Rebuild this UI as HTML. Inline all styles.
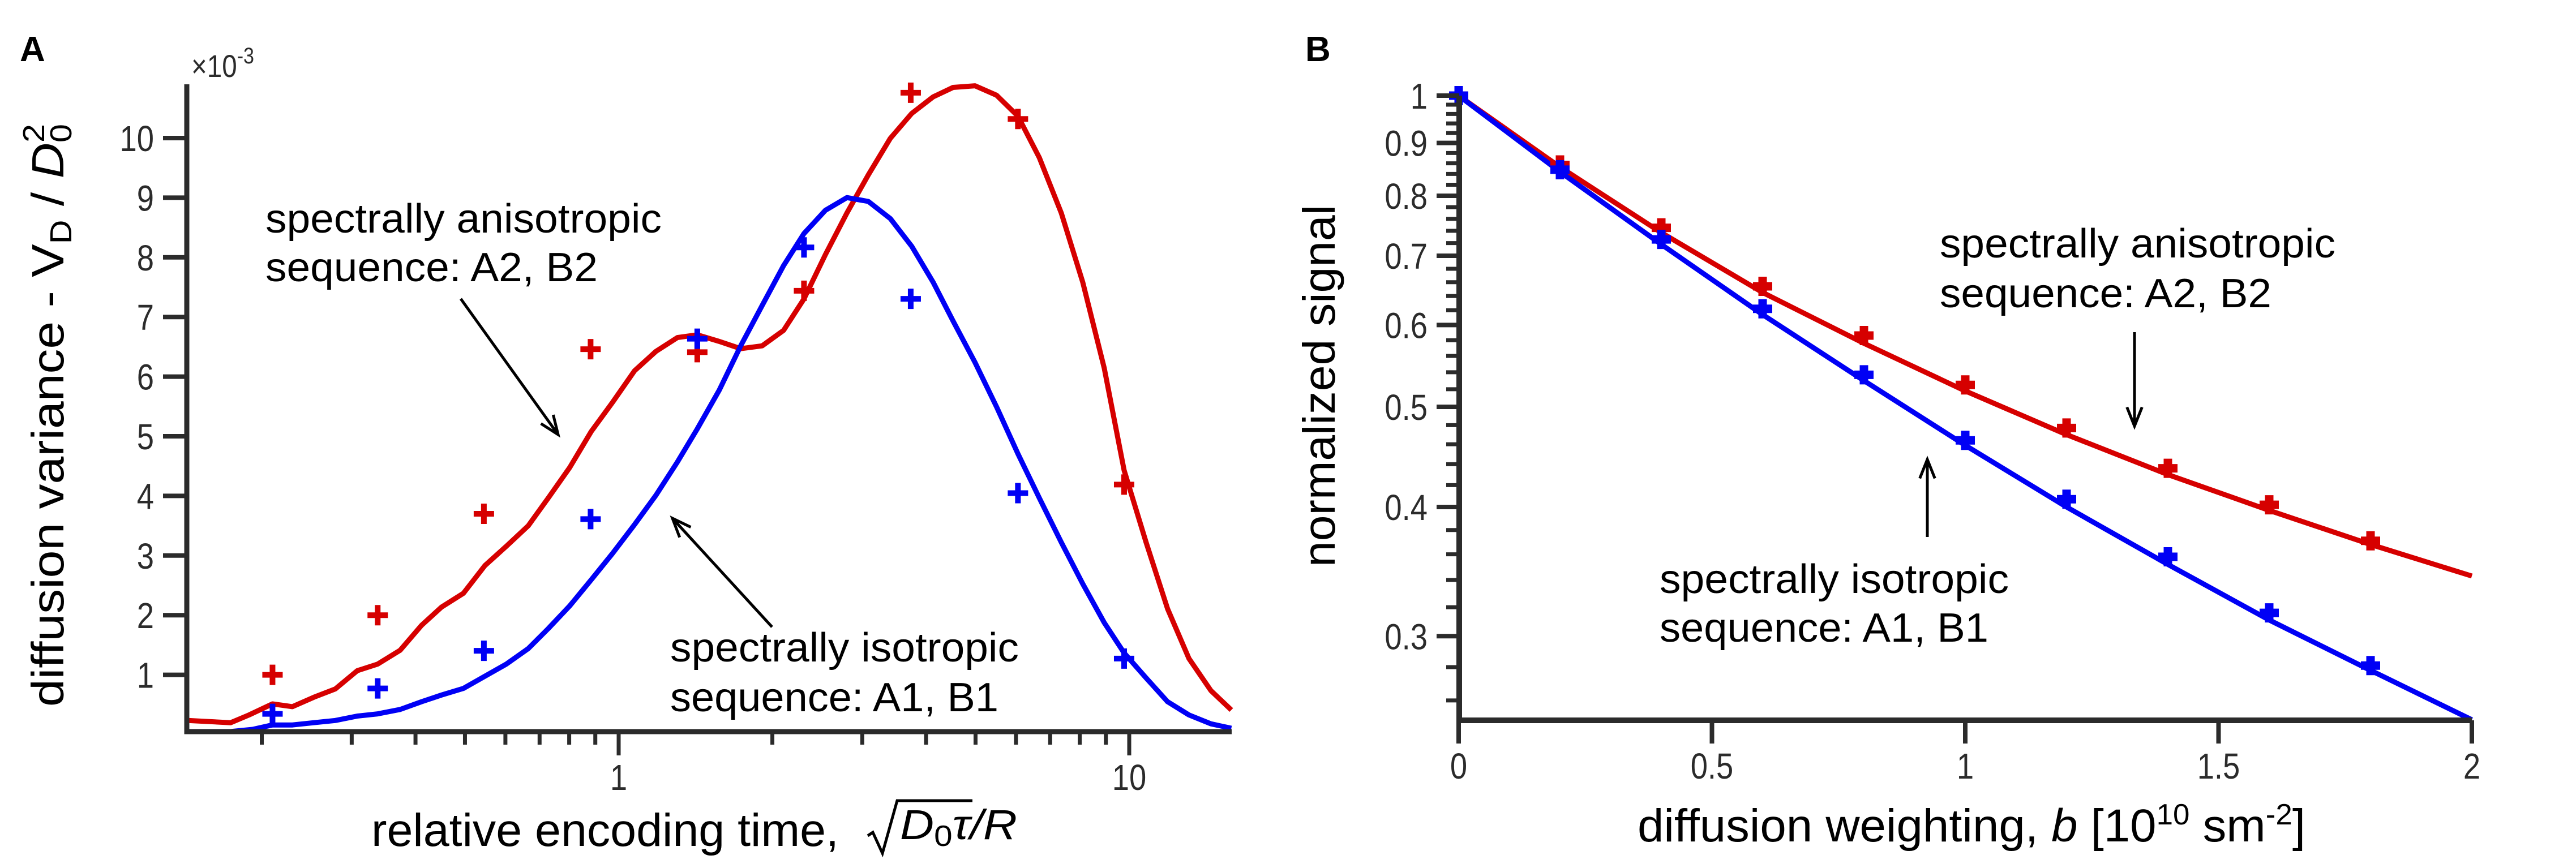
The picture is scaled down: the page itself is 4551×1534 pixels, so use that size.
<!DOCTYPE html>
<html><head><meta charset="utf-8"><style>
html,body{margin:0;padding:0;background:#fff;}
svg{display:block;}
text{font-family:"Liberation Sans",sans-serif;}
</style></head><body>
<svg id="fig" width="4551" height="1534" viewBox="0 0 4551 1534" xmlns="http://www.w3.org/2000/svg">
<g id="gA"></g>
<g id="gB"></g>
</svg>
<script>
// ---------- Panel A data ----------
const aCurveLogX = [-0.844,-0.760,-0.724,-0.678,-0.639,-0.597,-0.555,-0.512,-0.472,-0.428,-0.386,-0.347,-0.304,-0.262,-0.220,-0.177,-0.138,-0.096,-0.054,-0.012,0.031,0.073,0.115,0.154,0.197,0.239,0.281,0.323,0.363,0.405,0.447,0.489,0.532,0.574,0.616,0.655,0.698,0.740,0.782,0.824,0.867,0.909,0.951,0.990,1.033,1.075,1.117,1.160,1.200];
const aRedCurve = [0.234,0.197,0.327,0.512,0.466,0.624,0.763,1.069,1.180,1.412,1.830,2.136,2.368,2.832,3.157,3.50,3.964,4.474,5.077,5.569,6.098,6.423,6.655,6.701,6.59,6.469,6.516,6.775,7.304,8.047,8.743,9.383,9.995,10.413,10.691,10.849,10.877,10.719,10.367,9.671,8.743,7.583,6.145,4.428,3.221,2.108,1.273,0.735,0.410];
const aBlueCurveLogX = [-0.844,-0.760,-0.717,-0.678,-0.639,-0.597,-0.555,-0.512,-0.472,-0.428,-0.386,-0.347,-0.304,-0.262,-0.220,-0.177,-0.138,-0.096,-0.054,-0.012,0.031,0.073,0.115,0.154,0.197,0.239,0.281,0.323,0.363,0.405,0.447,0.489,0.532,0.574,0.616,0.655,0.698,0.740,0.782,0.824,0.867,0.909,0.951,0.990,1.033,1.075,1.117,1.160,1.200];
const aBlueCurve = [0.048,0.048,0.085,0.159,0.159,0.197,0.234,0.308,0.345,0.419,0.549,0.661,0.772,0.976,1.180,1.440,1.774,2.155,2.591,3.036,3.519,4.010,4.567,5.124,5.773,6.516,7.193,7.861,8.399,8.789,9.002,8.937,8.650,8.186,7.583,6.933,6.237,5.495,4.706,3.964,3.221,2.526,1.876,1.366,0.948,0.549,0.327,0.178,0.104];
const aPointLogX = [-0.678,-0.472,-0.264,-0.055,0.154,0.363,0.572,0.782,0.990];
const aRedPts = [1.0,2.0,3.7,6.46,6.41,7.44,10.76,10.32,4.19];
const aBluePts = [0.345,0.772,1.403,3.611,6.636,8.167,7.304,4.047,1.273];
const aYTicks = [1,2,3,4,5,6,7,8,9,10];
const aXMajor = [1,10];
const aXMinor = [0.2,0.3,0.4,0.5,0.6,0.7,0.8,0.9,2,3,4,5,6,7,8,9];
// ---------- Panel B data ----------
const bX = [0,0.2,0.4,0.6,0.8,1.0,1.2,1.4,1.6,1.8];
const bRedPts = [1,0.857,0.745,0.654,0.586,0.525,0.477,0.436,0.402,0.371];
const bBluePts = [1,0.848,0.726,0.622,0.537,0.464,0.407,0.358,0.316,0.281];
const bCurveX = [0,0.2,0.4,0.6,0.8,1.0,1.2,1.4,1.6,1.8,2.0];
const bRedCurve = [1,0.853,0.737,0.645,0.576,0.518,0.470,0.430,0.397,0.368,0.343];
const bBlueCurve = [1,0.844,0.718,0.614,0.530,0.459,0.400,0.352,0.311,0.278,0.249];
const bXTicks = [0,0.5,1,1.5,2];
const bXTickLabels = ["0","0.5","1","1.5","2"];
const bYMajor = [0.3,0.4,0.5,0.6,0.7,0.8,0.9,1];
const bYMajorLabels = ["0.3","0.4","0.5","0.6","0.7","0.8","0.9","1"];

const NS="http://www.w3.org/2000/svg";
const RED="#d60000", BLUE="#0000f5", AX="#2b2b2b";
const TS=64, SX=0.85;
function mk(parent,tag,attrs,text){const e=document.createElementNS(NS,tag);for(const k in attrs)e.setAttribute(k,attrs[k]);if(text!==undefined)e.textContent=text;parent.appendChild(e);return e;}

const xA = l => 1093 + 902*l;
const yA = v => 1298 - 105.4*v;
const xB = b => 2577 + 895*b;
const yB = v => 169 - 1827*Math.log10(v);

const gA=document.getElementById('gA'), gB=document.getElementById('gB');

function plus(g,x,y,s,w,color){
  const p=mk(g,'path',{d:`M${x-s} ${y}H${x+s}M${x} ${y-s}V${y+s}`,stroke:color,'stroke-width':w,fill:'none'});
  
  
}
function curve(g,xs,ys,fx,fy,color,name){
  const pts=xs.map((x,i)=>fx(x).toFixed(1)+','+fy(ys[i]).toFixed(1)).join(' ');
  const p=mk(g,'polyline',{points:pts,fill:'none',stroke:color,'stroke-width':9,'stroke-linejoin':'round'});
  
  
}
function label(g,x,y,txt,size,anchor,name,extra){
  const t=mk(g,'text',Object.assign({x:x,y:y,'font-size':size,'text-anchor':anchor||'start',fill:'#000'},extra||{}),txt);
  
  
  return t;
}
function arrow(g,x1,y1,x2,y2,name){
  const a=Math.atan2(y2-y1,x2-x1), L=36, sp=0.38;
  const p=mk(g,'path',{d:`M${x1} ${y1}L${x2} ${y2}M${x2-L*Math.cos(a-sp)} ${y2-L*Math.sin(a-sp)}L${x2} ${y2}L${x2-L*Math.cos(a+sp)} ${y2-L*Math.sin(a+sp)}`,stroke:'#000','stroke-width':5,fill:'none'});
  
  
}

// ===== Panel A =====
label(gA,35,108,"A",62,'start','panel-a-letter',{'font-weight':'bold'});
curve(gA,aCurveLogX,aRedCurve,xA,yA,RED,'anisotropic-curve-a');
curve(gA,aBlueCurveLogX,aBlueCurve,xA,yA,BLUE,'isotropic-curve-a');
aPointLogX.forEach((l,i)=>{plus(gA,xA(l),yA(aRedPts[i]),18,10,RED);});
aPointLogX.forEach((l,i)=>{plus(gA,xA(l),yA(aBluePts[i]),18,10,BLUE);});
const axA=mk(gA,'path',{d:`M330 149V1293H2176`,stroke:AX,'stroke-width':9,fill:'none'});


aYTicks.forEach(v=>{
  const t=mk(gA,'line',{x1:288,x2:330,y1:yA(v),y2:yA(v),stroke:AX,'stroke-width':8});
  
  
  label(gA,272,yA(v)+23,String(v),TS,'end','y-tick-label',{fill:'#2b2b2b',transform:`translate(${272*(1-SX)},0) scale(${SX},1)`});
});
aXMinor.forEach(v=>{
  const x=xA(Math.log10(v));
  const t=mk(gA,'line',{x1:x,x2:x,y1:1293,y2:1316,stroke:AX,'stroke-width':7});
  
  
});
aXMajor.forEach(v=>{
  const x=xA(Math.log10(v));
  const t=mk(gA,'line',{x1:x,x2:x,y1:1293,y2:1335,stroke:AX,'stroke-width':7});
  
  
  label(gA,x,1396,String(v),TS,'middle','x-tick-label',{fill:'#2b2b2b',transform:`translate(${x*(1-SX)},0) scale(${SX},1)`});
});
const ex=label(gA,338,136,"",56,'start','y-exponent-label',{fill:'#2b2b2b',transform:`translate(${338*(1-SX)},0) scale(${SX},1)`});
ex.innerHTML='×10<tspan dy="-24" font-size="40">-3</tspan>';
const yt=label(gA,0,0,"",80,'middle','y-axis-title-a',{transform:'translate(112,734) rotate(-90)',textLength:1030,lengthAdjust:'spacingAndGlyphs'});
yt.innerHTML='diffusion variance  - V<tspan font-size="54" dy="14">D</tspan><tspan dy="-14"> / </tspan><tspan font-style="italic">D</tspan><tspan font-size="54" dy="14">0</tspan><tspan font-size="54" dy="-48" dx="-30">2</tspan>';
label(gA,656,1495,"relative encoding time,",82,'start','x-axis-title-a',{textLength:826,lengthAdjust:'spacingAndGlyphs'});
const rad=mk(gA,'path',{d:'M1533 1477L1542 1471L1559 1508L1585 1415H1718',stroke:'#000','stroke-width':5,fill:'none'});


const fm=label(gA,1590,1483,"",74,'start','x-axis-formula',{'font-family':'"Liberation Serif",serif','font-style':'italic',textLength:207,lengthAdjust:'spacingAndGlyphs'});
fm.innerHTML='D<tspan font-style="normal" font-size="52" dy="12">0</tspan><tspan dy="-12">τ/R</tspan>';
label(gA,469,411,"spectrally anisotropic",72,'start','annotation-anisotropic-a',{textLength:700,lengthAdjust:'spacingAndGlyphs'});
label(gA,469,497,"sequence: A2, B2",72,'start','annotation-anisotropic-seq-a',{textLength:587,lengthAdjust:'spacingAndGlyphs'});
label(gA,1184,1169,"spectrally isotropic",72,'start','annotation-isotropic-a',{textLength:616,lengthAdjust:'spacingAndGlyphs'});
label(gA,1184,1257,"sequence: A1, B1",72,'start','annotation-isotropic-seq-a',{textLength:580,lengthAdjust:'spacingAndGlyphs'});
arrow(gA,814,528,986,768,'arrow-anisotropic-a');
arrow(gA,1364,1108,1188,916,'arrow-isotropic-a');

// ===== Panel B =====
label(gB,2306,108,"B",62,'start','panel-b-letter',{'font-weight':'bold'});
curve(gB,bCurveX,bRedCurve,xB,yB,RED,'anisotropic-curve-b');
curve(gB,bCurveX,bBlueCurve,xB,yB,BLUE,'isotropic-curve-b');
bX.forEach((b,i)=>{plus(gB,xB(b),yB(bRedPts[i]),17,15,RED);});
bX.forEach((b,i)=>{plus(gB,xB(b),yB(bBluePts[i]),17,15,BLUE);});
const axB=mk(gB,'path',{d:`M2578 169V1273H4367`,stroke:AX,'stroke-width':10,fill:'none'});


for(let k=13;k<=50;k++){
  const v=k*0.02;
  const y=yB(v);
  const t=mk(gB,'line',{x1:2555,x2:2578,y1:y,y2:y,stroke:AX,'stroke-width':7});
  
  
}
bYMajor.forEach((v,i)=>{
  const y=yB(v);
  const t=mk(gB,'line',{x1:2538,x2:2578,y1:y,y2:y,stroke:AX,'stroke-width':8});
  
  
  label(gB,2522,y+23,bYMajorLabels[i],TS,'end','y-tick-label',{fill:'#2b2b2b',transform:`translate(${2522*(1-SX)},0) scale(${SX},1)`});
});
bXTicks.forEach((v,i)=>{
  const x=xB(v);
  const t=mk(gB,'line',{x1:x,x2:x,y1:1273,y2:1314,stroke:AX,'stroke-width':8});
  
  
  label(gB,x,1376,bXTickLabels[i],TS,'middle','x-tick-label',{fill:'#2b2b2b',transform:`translate(${x*(1-SX)},0) scale(${SX},1)`});
});
label(gB,0,0,"normalized signal",80,'middle','y-axis-title-b',{transform:'translate(2358,682) rotate(-90)',textLength:640,lengthAdjust:'spacingAndGlyphs'});
const xtB=label(gB,2893,1487,"",82,'start','x-axis-title-b',{textLength:1180,lengthAdjust:'spacingAndGlyphs'});
xtB.innerHTML='diffusion weighting, <tspan font-style="italic">b</tspan> [10<tspan font-size="52" dy="-30">10</tspan><tspan dy="30"> sm</tspan><tspan font-size="52" dy="-30">-2</tspan><tspan dy="30">]</tspan>';
label(gB,3427,455,"spectrally anisotropic",72,'start','annotation-anisotropic-b',{textLength:699,lengthAdjust:'spacingAndGlyphs'});
label(gB,3427,543,"sequence: A2, B2",72,'start','annotation-anisotropic-seq-b',{textLength:586,lengthAdjust:'spacingAndGlyphs'});
label(gB,2932,1048,"spectrally isotropic",72,'start','annotation-isotropic-b',{textLength:617,lengthAdjust:'spacingAndGlyphs'});
label(gB,2932,1134,"sequence: A1, B1",72,'start','annotation-isotropic-seq-b',{textLength:581,lengthAdjust:'spacingAndGlyphs'});
arrow(gB,3771,587,3771,753,'arrow-anisotropic-b');
arrow(gB,3405,949,3405,812,'arrow-isotropic-b');
</script>
</body></html>
